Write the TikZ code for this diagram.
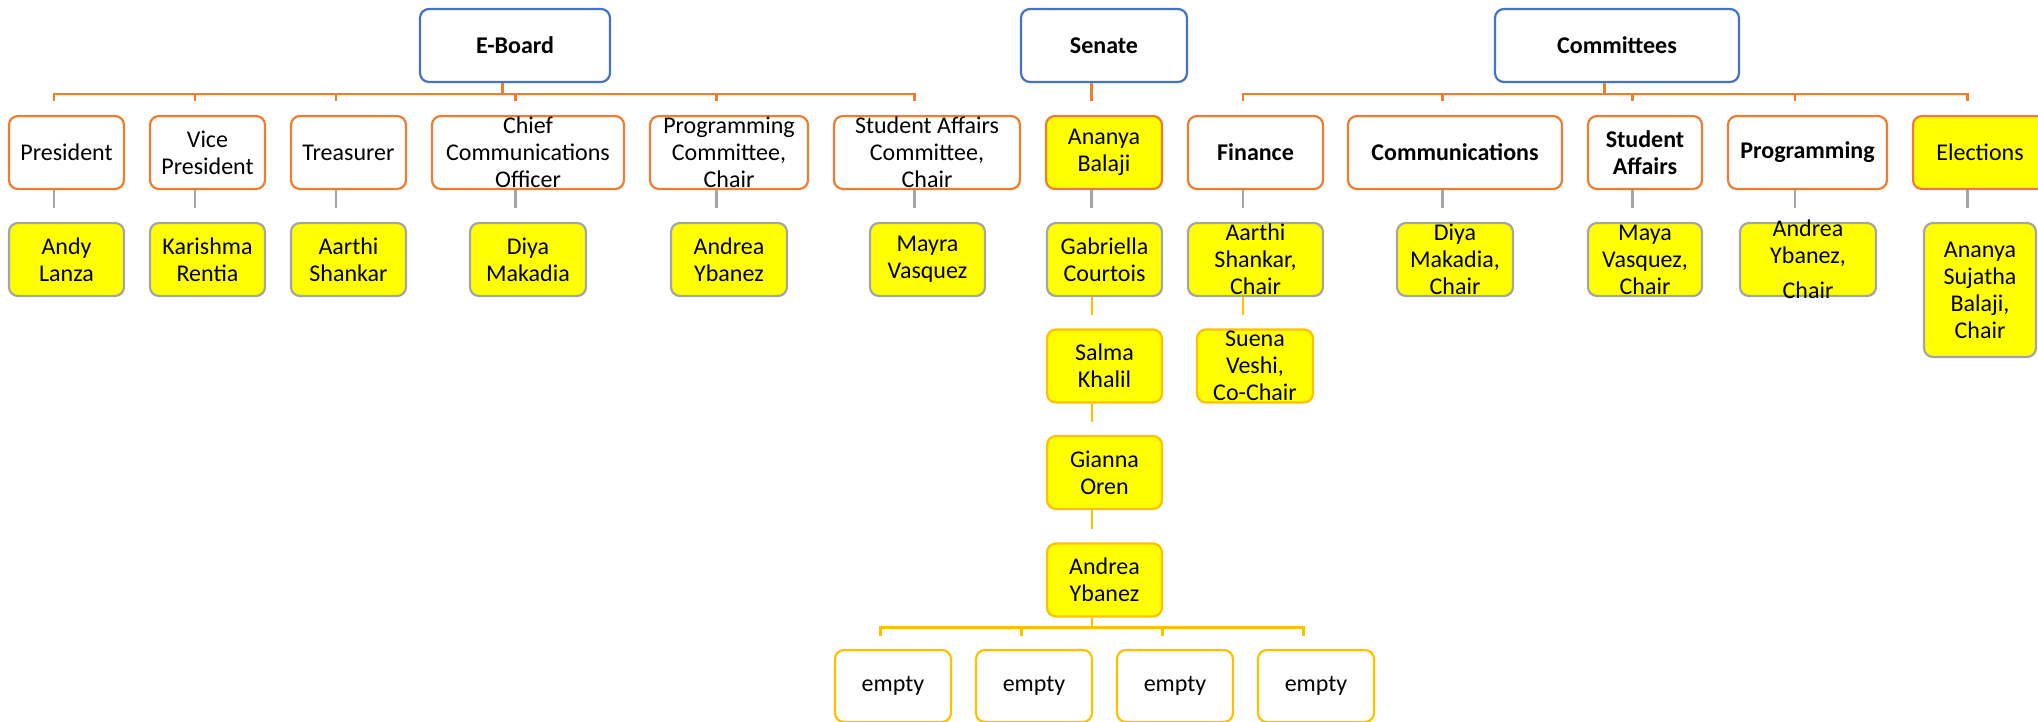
\documentclass[tikz,border=0pt]{standalone}
\usepackage{fontspec}
\setmainfont{Carlito}
\usetikzlibrary{calc}
\definecolor{cblue}{HTML}{4472C4}
\definecolor{corange}{HTML}{ED7D31}
\definecolor{cgray}{HTML}{A5A5A5}
\definecolor{cgold}{HTML}{FFC000}
\definecolor{cyel}{HTML}{FFFF00}
\newcommand{\fs}{\fontsize{24}{27}\selectfont}
\begin{document}
\begin{tikzpicture}[x=1pt,y=-1pt,
 bx/.style={rectangle, rounded corners=9pt, line width=2.2pt, inner sep=0pt, minimum height=73pt},
 topbox/.style={bx, draw=cblue, fill=white},
 rolebox/.style={bx, draw=corange, fill=white},
 rolehl/.style={bx, draw=corange, fill=cyel},
 namebox/.style={bx, draw=cgray, fill=cyel},
 chainbox/.style={bx, draw=cgold, fill=cyel},
 emptybox/.style={bx, draw=cgold, fill=white},
 t/.style={label={[align=center,font=\fs,inner sep=0pt]center:#1}},
 tb/.style={label={[align=center,font=\fs\bfseries,inner sep=0pt]center:#1}},
 oline/.style={draw=corange, line width=2.6pt},
 gline/.style={draw=cgray, line width=2.4pt},
 yline/.style={draw=cgold, line width=2.6pt},
]
\useasboundingbox (0,0) rectangle (2038,722);

% top row
\node[topbox, minimum width=190pt, tb=E-Board] (eb) at (515,45.5) {};
\node[topbox, minimum width=166pt, tb=Senate] (sen) at (1104,45.5) {};
\node[topbox, minimum width=244pt, tb=Committees] (com) at (1617,45.5) {};

% second row
\node[rolebox, minimum width=115pt, t=President] (pres) at (66.5,152.5) {};
\node[rolebox, minimum width=115pt, t={Vice\\President}] (vp) at (207.5,152.5) {};
\node[rolebox, minimum width=115pt, t=Treasurer] (tre) at (348.5,152.5) {};
\node[rolebox, minimum width=192pt, t={Chief\\Communications\\Officer}] (cco) at (528,152.5) {};
\node[rolebox, minimum width=158pt, t={Programming\\Committee,\\Chair}] (pcc) at (729,152.5) {};
\node[rolebox, minimum width=186pt, t={Student Affairs\\Committee,\\Chair}] (sacc) at (927,152.5) {};
\node[rolehl, minimum width=116pt, t={Ananya\\Balaji}] (anan) at (1104,152.5) {};
\node[rolebox, minimum width=135pt, tb=Finance] (fin) at (1255.5,152.5) {};
\node[rolebox, minimum width=214pt, tb=Communications] (comm) at (1455,152.5) {};
\node[rolebox, minimum width=114pt, tb={Student\\Affairs}] (sa) at (1645,152.5) {};
\node[rolebox, minimum width=159pt, tb=Programming] (prog) at (1807.5,152.5) {};
\node[rolehl, minimum width=134pt, t=Elections] (elec) at (1980,152.5) {};

% third row
\node[namebox, minimum width=115pt, t={Andy\\Lanza}] (andy) at (66.5,259.5) {};
\node[namebox, minimum width=115pt, t={Karishma\\Rentia}] (kari) at (207.5,259.5) {};
\node[namebox, minimum width=115pt, t={Aarthi\\Shankar}] (aart) at (348.5,259.5) {};
\node[namebox, minimum width=116pt, t={Diya\\Makadia}] (diya) at (528,259.5) {};
\node[namebox, minimum width=116pt, t={Andrea\\Ybanez}] (andr) at (729,259.5) {};
\node[namebox, minimum width=115pt, t={Mayra\\Vasquez}] (mayr) at (927.5,259.5) {};
\node[namebox, minimum width=115pt, t={Gabriella\\Courtois}] (gabr) at (1104.5,259.5) {};
\node[namebox, minimum width=135pt, t={Aarthi\\Shankar,\\Chair}] (aarc) at (1255.5,259.5) {};
\node[namebox, minimum width=116pt, t={Diya\\Makadia,\\Chair}] (diyc) at (1455,259.5) {};
\node[namebox, minimum width=114pt, t={Maya\\Vasquez,\\Chair}] (mayc) at (1645,259.5) {};
\node[namebox, minimum width=136pt, t={Andrea\\Ybanez,\\[8pt]Chair}] (andc) at (1808,259.5) {};
\node[namebox, minimum width=112pt, minimum height=134pt, t={Ananya\\Sujatha\\Balaji,\\Chair}] (anac) at (1980,290) {};

% senate chain
\node[chainbox, minimum width=115pt, t={Salma\\Khalil}] (salm) at (1104.5,366) {};
\node[chainbox, minimum width=116pt, t={Suena\\Veshi,\\Co-Chair}] (suen) at (1255,366) {};
\node[chainbox, minimum width=115pt, t={Gianna\\Oren}] (gian) at (1104.5,472.5) {};
\node[chainbox, minimum width=115pt, t={Andrea\\Ybanez}] (ayb) at (1104.5,580) {};

% empties
\node[emptybox, minimum width=116pt, minimum height=72pt, t=empty] (e1) at (893,686) {};
\node[emptybox, minimum width=116pt, minimum height=72pt, t=empty] (e2) at (1034,686) {};
\node[emptybox, minimum width=116pt, minimum height=72pt, t=empty] (e3) at (1175,686) {};
\node[emptybox, minimum width=116pt, minimum height=72pt, t=empty] (e4) at (1316,686) {};

% orange connectors
\draw[oline] ($(eb.south)+(-12.5,0)$) -- ++(0,11);
\foreach \c in {pres,vp,tre,cco,pcc,sacc}
  \draw[oline] ($(\c.north)+(-12.5,-14)$) |- ($(eb.south)+(-12.5,11)$);
\draw[oline] ($(sen.south)+(-12.5,0)$) -- ($(anan.north)+(-12.5,-14)$);
\draw[oline] ($(com.south)+(-12.5,0)$) -- ++(0,11);
\foreach \c in {fin,comm,sa,prog,elec}
  \draw[oline] ($(\c.north)+(-12.5,-14)$) |- ($(com.south)+(-12.5,11)$);

% gray connectors
\foreach \a/\b in {pres/andy,vp/kari,tre/aart,cco/diya,pcc/andr,sacc/mayr,anan/gabr,fin/aarc,comm/diyc,sa/mayc,prog/andc,elec/anac}
  \draw[gline] ($(\a.south)+(-12.5,0)$) -- ($(\a.south |- \b.north)+(-12.5,-14)$);

% gold connectors
\foreach \a/\b in {gabr/salm,salm/gian,gian/ayb,aarc/suen}
  \draw[yline] ($(\a.south)+(-12.5,0)$) -- ($(\a.south |- \b.north)+(-12.5,-13)$);
\draw[yline] ($(ayb.south)+(-12.5,0)$) -- ++(0,10);
\foreach \e in {e1,e2,e3,e4}
  \draw[yline] ($(\e.north)+(-12.5,-13)$) |- ($(ayb.south)+(-12.5,10)$);
\end{tikzpicture}
\end{document}
